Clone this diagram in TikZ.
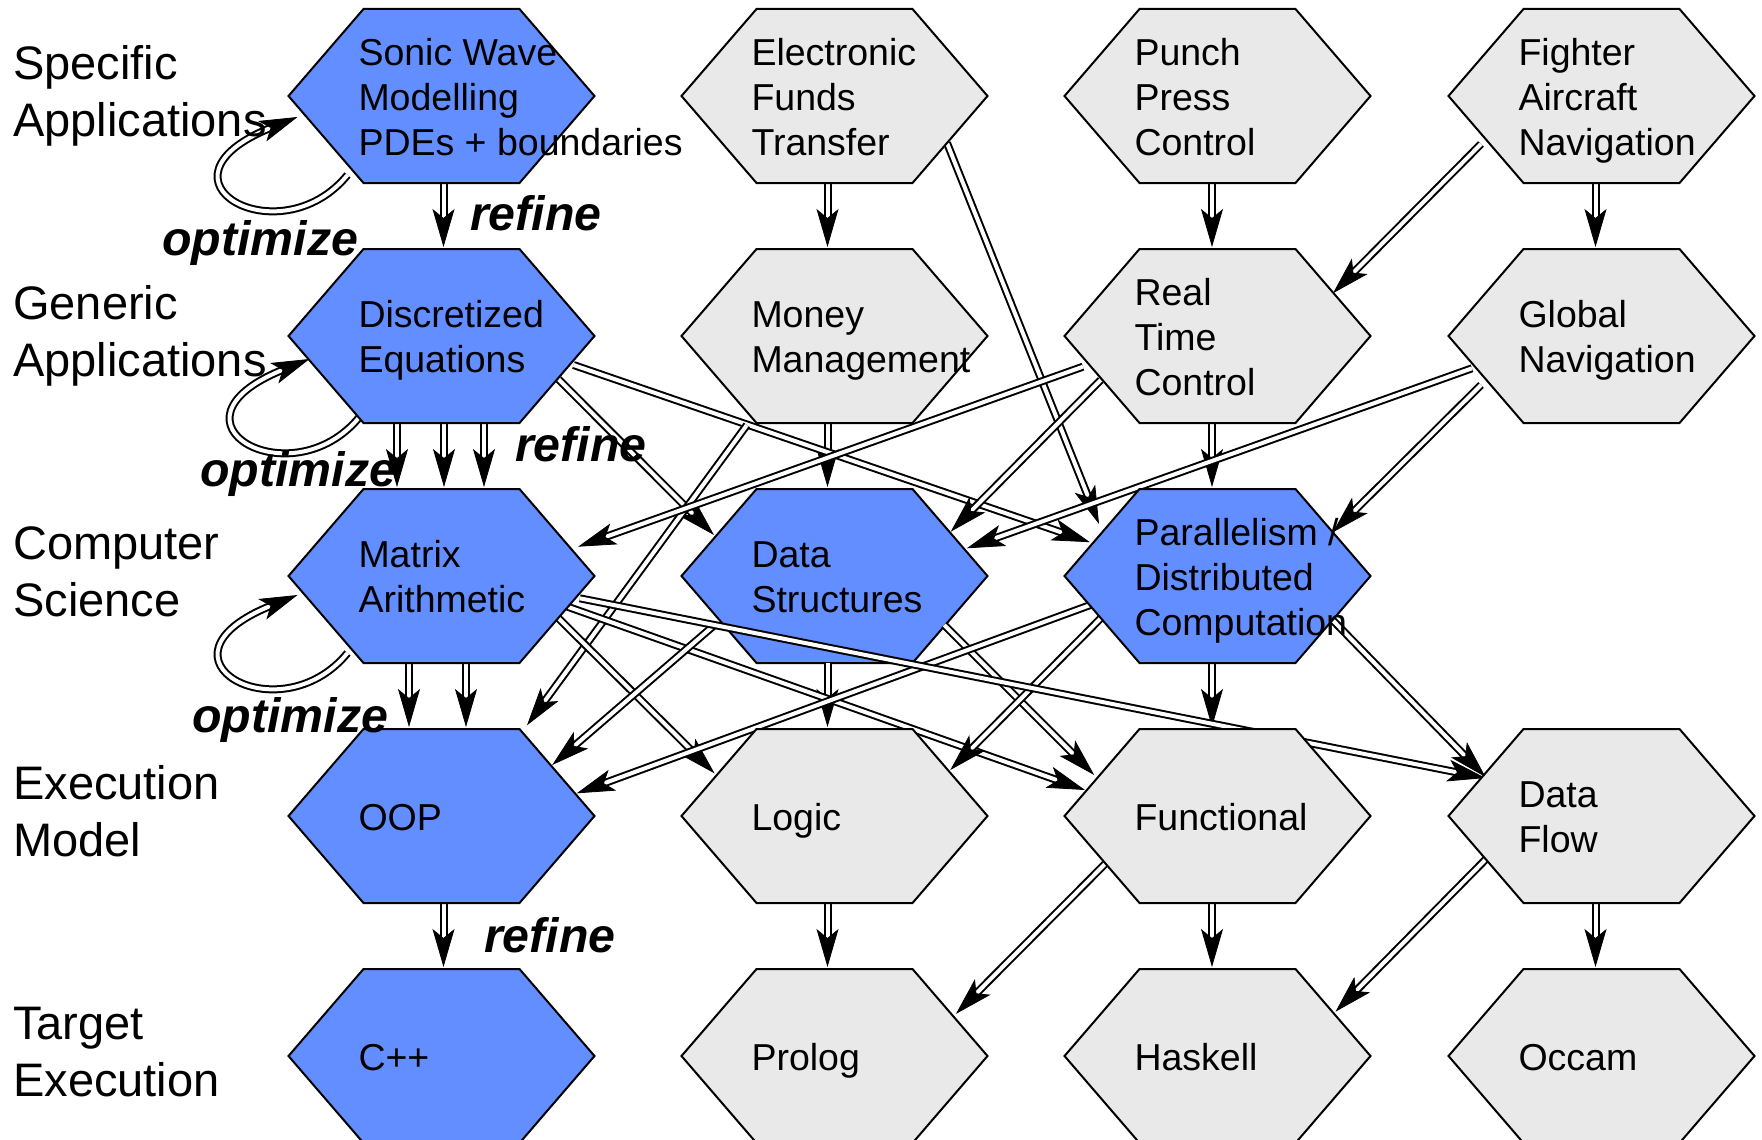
\documentclass[tikz,border=0pt]{standalone}
\usepackage{fontspec}
\setmainfont{Liberation Sans}
\usetikzlibrary{arrows.meta,calc}

\definecolor{cellblue}{RGB}{99,142,255}
\definecolor{cellgray}{RGB}{233,233,233}

\newcommand\celltextfont{\fontsize{37.5}{45}\selectfont}
\newcommand\rowtextfont{\fontsize{47}{57}\selectfont}
\newcommand\verbtextfont{\fontsize{48.3}{57}\selectfont\bfseries\itshape}
% fixed line heights, so that baselines sit at the same place in every cell
\newcommand\cellstrut{\rule[-8pt]{0pt}{42pt}}
\newcommand\rowstrut{\rule[-12pt]{0pt}{56pt}}

\pgfdeclarelayer{links}
\pgfdeclarelayer{midlinks}
\pgfsetlayers{links,midlinks,main}

% flat-topped hexagon of fixed size; the text starts at the left end of the top edge
\makeatletter
\def\hexW{153}% half width
\def\hexH{87}% half height
\def\hexT{78}% half length of the top edge
\def\hexTx{83}% distance from the centre to the left edge of the text
\pgfmathsetmacro\hexK{(\hexW-\hexT)/\hexH}
\pgfdeclareshape{hexcell}{%
  \savedanchor\centerpoint{%
    \pgf@x=\hexTx pt
    \pgf@y=.5\ht\pgfnodeparttextbox
    \advance\pgf@y by -.5\dp\pgfnodeparttextbox
    \advance\pgf@y by 1pt
  }%
  \anchor{center}{\centerpoint}%
  \anchor{text}{\pgfpointorigin}%
  \anchor{north}{\centerpoint\advance\pgf@y by \hexH pt}%
  \anchor{south}{\centerpoint\advance\pgf@y by -\hexH pt}%
  \anchor{east}{\centerpoint\advance\pgf@x by \hexW pt}%
  \anchor{west}{\centerpoint\advance\pgf@x by -\hexW pt}%
  \backgroundpath{%
    \pgfpathmoveto{\pgfpointadd{\centerpoint}{\pgfqpoint{-\hexW pt}{0pt}}}%
    \pgfpathlineto{\pgfpointadd{\centerpoint}{\pgfqpoint{-\hexT pt}{\hexH pt}}}%
    \pgfpathlineto{\pgfpointadd{\centerpoint}{\pgfqpoint{\hexT pt}{\hexH pt}}}%
    \pgfpathlineto{\pgfpointadd{\centerpoint}{\pgfqpoint{\hexW pt}{0pt}}}%
    \pgfpathlineto{\pgfpointadd{\centerpoint}{\pgfqpoint{\hexT pt}{-\hexH pt}}}%
    \pgfpathlineto{\pgfpointadd{\centerpoint}{\pgfqpoint{-\hexT pt}{-\hexH pt}}}%
    \pgfpathclose
  }%
  \anchorborder{%
    \edef\hx@dx{\the\pgf@x}\edef\hx@dy{\the\pgf@y}%
    \pgfmathsetmacro\hx@L{max(veclen(\hx@dx,\hx@dy),0.001)}%
    \pgfmathsetmacro\hx@ux{\hx@dx/\hx@L}%
    \pgfmathsetmacro\hx@uy{\hx@dy/\hx@L}%
    \pgfmathsetmacro\hx@s{min(\hexH/max(abs(\hx@uy),0.01),\hexW/max(abs(\hx@ux)+\hexK*abs(\hx@uy),0.01))}%
    \pgfmathsetmacro\hx@px{\hx@s*\hx@ux}%
    \pgfmathsetmacro\hx@py{\hx@s*\hx@uy}%
    \centerpoint
    \advance\pgf@x by \hx@px pt
    \advance\pgf@y by \hx@py pt
  }%
}
\makeatother

\tikzset{
  cell/.style={shape=hexcell, draw=black, line width=2pt, align=left,
    font=\celltextfont, text=black},
  bluecell/.style={cell, fill=cellblue},
  graycell/.style={cell, fill=cellgray},
  link/.style={draw=black, line width=2pt, double=white, double distance=4pt,
    -{Stealth[length=38pt, width=22pt, inset=9pt, line width=0.8pt]}},
  rowlabel/.style={anchor=west, align=left, font=\rowtextfont, inner sep=0pt},
  verb/.style={anchor=base west, font=\verbtextfont, inner sep=0pt},
}

\begin{document}
\begin{tikzpicture}[x=1pt,y=-1pt]
\useasboundingbox (0,0) rectangle (1762,1140);

% this cell lies under one of the long links
\begin{pgfonlayer}{links}
  \node[bluecell] (datastruct) at (834.5,576) {\cellstrut Data\\\cellstrut Structures};
\end{pgfonlayer}

% row 1
\node[bluecell] (sonic)   at (441.5,96)  {\cellstrut Sonic Wave\\\cellstrut Modelling\\\cellstrut PDEs + boundaries};
\node[graycell] (eft)     at (834.5,96)  {\cellstrut Electronic\\\cellstrut Funds\\\cellstrut Transfer};
\node[graycell] (punch)   at (1217.5,96) {\cellstrut Punch\\\cellstrut Press\\\cellstrut Control};
\node[graycell] (fighter) at (1601.5,96) {\cellstrut Fighter\\\cellstrut Aircraft\\\cellstrut Navigation};
% row 2
\node[bluecell] (disc)    at (441.5,336)  {\cellstrut Discretized\\\cellstrut Equations};
\node[graycell] (money)   at (834.5,336)  {\cellstrut Money\\\cellstrut Management};
\node[graycell] (rtc)     at (1217.5,336) {\cellstrut Real\\\cellstrut Time\\\cellstrut Control};
\node[graycell] (global)  at (1601.5,336) {\cellstrut Global\\\cellstrut Navigation};
% row 3
\node[bluecell] (matrix)   at (441.5,576)  {\cellstrut Matrix\\\cellstrut Arithmetic};
\node[bluecell] (parallel) at (1217.5,576) {\cellstrut Parallelism /\\\cellstrut Distributed\\\cellstrut Computation};
% row 4
\node[bluecell] (oop)        at (441.5,816)  {\cellstrut OOP};
\node[graycell] (logic)      at (834.5,816)  {\cellstrut Logic};
\node[graycell] (functional) at (1217.5,816) {\cellstrut Functional};
\node[graycell] (dataflow)   at (1601.5,816) {\cellstrut Data\\\cellstrut Flow};
% row 5
\node[bluecell] (cpp)     at (441.5,1056)  {\cellstrut C++};
\node[graycell] (prolog)  at (834.5,1056)  {\cellstrut Prolog};
\node[graycell] (haskell) at (1217.5,1056) {\cellstrut Haskell};
\node[graycell] (occam)   at (1601.5,1056) {\cellstrut Occam};

\begin{pgfonlayer}{links}
  % straight down
  \draw[link] ([xshift=2pt]sonic.south) -- ([xshift=2pt,yshift=2pt]disc.north);
  \draw[link] ([xshift=-7pt]eft.south) -- ([xshift=-7pt,yshift=2pt]money.north);
  \draw[link] ([xshift=-5.5pt]punch.south) -- ([xshift=-5.5pt,yshift=2pt]rtc.north);
  \draw[link] ([xshift=-6pt]fighter.south) -- ([xshift=-6pt,yshift=2pt]global.north);
  \foreach \dx in {-44.5,2.5,42.5}
    \draw[link] ([xshift=\dx pt]disc.south) -- ([xshift=\dx pt,yshift=2pt]matrix.north);
  \draw[link] ([xshift=-7pt]money.south) -- ([xshift=-7pt,yshift=2pt]datastruct.north);
  \draw[link] ([xshift=-5.5pt]rtc.south) -- ([xshift=-5.5pt,yshift=2pt]parallel.north);
  \foreach \dx in {-32.5,24.5}
    \draw[link] ([xshift=\dx pt]matrix.south) -- ([xshift=\dx pt,yshift=2pt]oop.north);
  \draw[link] ([xshift=-7pt]datastruct.south) -- ([xshift=-7pt,yshift=2pt]logic.north);
  \draw[link] ([xshift=-5.5pt]parallel.south) -- ([xshift=-5.5pt,yshift=2pt]functional.north);
  \draw[link] ([xshift=2pt]oop.south) -- ([xshift=2pt,yshift=2pt]cpp.north);
  \draw[link] ([xshift=-7pt]logic.south) -- ([xshift=-7pt,yshift=2pt]prolog.north);
  \draw[link] ([xshift=-5.5pt]functional.south) -- ([xshift=-5.5pt,yshift=2pt]haskell.north);
  \draw[link] ([xshift=-6pt]dataflow.south) -- ([xshift=-6pt,yshift=2pt]occam.north);

  % slanted links
  \draw[link] ($(eft.center)+(112.5,47)$) -- ($(parallel.center)+(-118.5,-52)$);
  \draw[link] ($(fighter.center)+(-120.5,48)$) -- ($(rtc.center)+(115.4,-42.7)$);
  \draw[link] ($(disc.center)+(117,43.3)$) -- ($(datastruct.center)+(-120.5,-41)$);
  \draw[link] ($(disc.center)+(132,29)$) -- ($(parallel.center)+(-127.5,-33.8)$);
  \draw[link] ($(money.center)+(-87.6,89)$) -- ($(oop.center)+(85.5,-90.7)$);
  \draw[link] ($(rtc.center)+(-134.6,30.7)$) -- ($(matrix.center)+(136.6,-29.3)$);
  \draw[link] ($(rtc.center)+(-116.8,44)$) -- ($(datastruct.center)+(116.2,-44.3)$);
  \draw[link] ($(global.center)+(-129.5,32.3)$) -- ($(datastruct.center)+(132.3,-27.7)$);
  \draw[link] ($(global.center)+(-120.5,49)$) -- ($(parallel.center)+(115.4,-43.8)$);
  \draw[link] ($(matrix.center)+(117,42.3)$) -- ($(logic.center)+(-120,-42.7)$);
  \draw[link] ($(matrix.center)+(126,30.7)$) -- ($(functional.center)+(-132.5,-26)$);
  \draw[link] ($(datastruct.center)+(-120,49)$) -- ($(oop.center)+(110.7,-51)$);
  \draw[link] ($(datastruct.center)+(109.7,49)$) -- ($(functional.center)+(-123.3,-41)$);
  \draw[link] ($(parallel.center)+(-119,26)$) -- ($(oop.center)+(135.2,-22.7)$);
  \draw[link] ($(parallel.center)+(-115.5,41)$) -- ($(logic.center)+(115.8,-46)$);
  \draw[link] ($(parallel.center)+(115.5,44.5)$) -- ($(dataflow.center)+(-116,-39)$);
  \draw[link] ($(functional.center)+(-112.5,48)$) -- ($(prolog.center)+(121.4,-42.1)$);
  \draw[link] ($(dataflow.center)+(-114,41.5)$) -- ($(haskell.center)+(118,-44.3)$);

  % optimize loops
  \draw[link] ($(sonic.center)+(-94,79)$) .. controls ($(sonic.center)+(-162,162)$)
    and ($(sonic.center)+(-300,84)$) .. ($(sonic.center)+(-144,21)$);
  \draw[link] ($(disc.center)+(-82,81)$) .. controls ($(disc.center)+(-150,164)$)
    and ($(disc.center)+(-288,86)$) .. ($(disc.center)+(-132,23)$);
  \draw[link] ($(matrix.center)+(-94,77)$) .. controls ($(matrix.center)+(-162,160)$)
    and ($(matrix.center)+(-300,82)$) .. ($(matrix.center)+(-144,19)$);
\end{pgfonlayer}

% passes over Data Structures and under Functional
\begin{pgfonlayer}{midlinks}
  \draw[link] ($(matrix.center)+(138.3,22.3)$) -- ($(dataflow.center)+(-116,-38)$);
\end{pgfonlayer}

% level names
\node[rowlabel] (lvl1) at (13,92)   {\rowstrut Specific\\\rowstrut Applications};
\node[rowlabel] (lvl2) at (13,332)  {\rowstrut Generic\\\rowstrut Applications};
\node[rowlabel] (lvl3) at (13,572)  {\rowstrut Computer\\\rowstrut Science};
\node[rowlabel] (lvl4) at (13,812)  {\rowstrut Execution\\\rowstrut Model};
\node[rowlabel] (lvl5) at (13,1052) {\rowstrut Target\\\rowstrut Execution};

% link labels
\node[verb] (refine1)   at (470,230) {refine};
\node[verb] (optimize1) at (162,255) {optimize};
\node[verb] (refine2)   at (515,461) {refine};
\node[verb] (optimize2) at (200,486) {optimize};
\node[verb] (optimize3) at (192,732) {optimize};
\node[verb] (refine3)   at (484,952) {refine};
\end{tikzpicture}
\end{document}
